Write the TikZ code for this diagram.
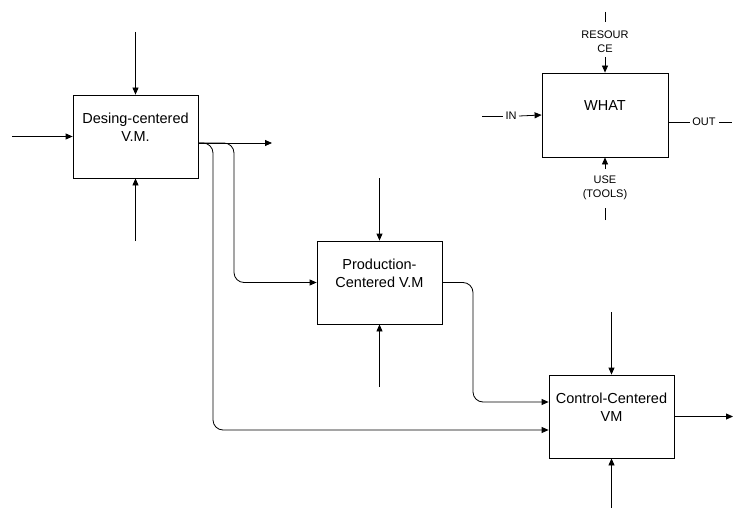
\documentclass[tikz,border=0pt]{standalone}
\usepackage{fontspec}
\setmainfont{Liberation Sans}
\usetikzlibrary{arrows.meta}
\begin{document}
\begin{tikzpicture}[x=1pt,y=-1pt,
  wire/.style={line width=0.8pt},
  flow/.style={wire, -{Triangle[length=7pt,width=6pt]}},
  block/.style={draw, line width=0.8pt, minimum width=125pt, minimum height=83pt, inner sep=0pt},
  caption/.style={font=\fontsize{14.5}{18}\selectfont, align=center, inner sep=0pt},
  tag/.style={font=\fontsize{11}{13.5}\selectfont, align=center, inner sep=0pt}]
\useasboundingbox (0,0) rectangle (733,508);

% activity boxes
\node[block] (b1) at (135.5,136.5) {};
\node[block] (b2) at (379.5,282.5) {};
\node[block] (b3) at (611.5,416.5) {};
\node[block, minimum width=126pt, minimum height=84pt] (b4) at (605,115) {};

\node[caption] (t1) at ([yshift=9.5pt]b1.center) {Desing-centered\\V.M.};
\node[caption] (t2) at ([yshift=9pt]b2.center) {Production-\\Centered V.M};
\node[caption] (t3) at ([yshift=9pt]b3.center) {Control-Centered\\VM};
\node[caption] (t4) at ([yshift=9pt]b4.center) {WHAT};

% Design-centered box
\coordinate (i1) at (12,136.5);
\coordinate (c1) at (135.5,32);
\coordinate (m1) at (135.5,241);
\coordinate (o1) at ([yshift=-6.5pt]b1.east);
\coordinate (e1) at (272,143);
\draw[flow] (i1) -- (b1.west);
\draw[flow] (c1) -- (b1.north);
\draw[flow] (m1) -- (b1.south);
\draw[flow] (o1) -- (e1);
\draw[flow, rounded corners=10pt] (o1) -- (213,143) -- (213,430) -- ([yshift=-13.5pt]b3.west);
\draw[flow, rounded corners=10pt] (o1) -- (234,143) -- (234,282.5) -- (b2.west);

% Production-centered box
\coordinate (c2) at (379.5,178);
\coordinate (m2) at (379.5,387);
\draw[flow] (c2) -- (b2.north);
\draw[flow] (m2) -- (b2.south);
\draw[flow, rounded corners=10pt] (b2.east) -- (473,282.5) -- (473,402) -- ([yshift=14.5pt]b3.west);

% Control-centered box
\coordinate (c3) at (611.5,312);
\coordinate (m3) at (611.5,508);
\coordinate (e3) at (733,416.5);
\draw[flow] (c3) -- (b3.north);
\draw[flow] (m3) -- (b3.south);
\draw[flow] (b3.east) -- (e3);

% legend box
\node[tag] (lres) at (605,41.5) {RESOUR\\CE};
\node[tag] (luse) at (605,188) {USE\\(TOOLS)};
\node[tag] (lin) at (511,116) {IN};
\node[tag] (lout) at (704,122) {OUT};
\coordinate (r0) at (605,12);
\coordinate (r1) at (605,22);
\coordinate (r2) at (605,57);
\coordinate (u0) at (605,220);
\coordinate (u1) at (605,208);
\coordinate (u2) at (605,169);
\coordinate (n0) at (482,116);
\coordinate (n1) at (503,116);
\coordinate (n2) at (519,116);
\coordinate (q0) at ([yshift=-7pt]b4.east);
\coordinate (q1) at (690,122);
\coordinate (q2) at (719,122);
\coordinate (q3) at (732,122);
\draw[wire] (r0) -- (r1);
\draw[flow] (r2) -- (b4.north);
\draw[wire] (u0) -- (u1);
\draw[flow] (u2) -- (b4.south);
\draw[wire] (n0) -- (n1);
\draw[flow] (n2) -- (b4.west);
\draw[wire] (q0) -- (q1);
\draw[wire] (q2) -- (q3);
\end{tikzpicture}
\end{document}
